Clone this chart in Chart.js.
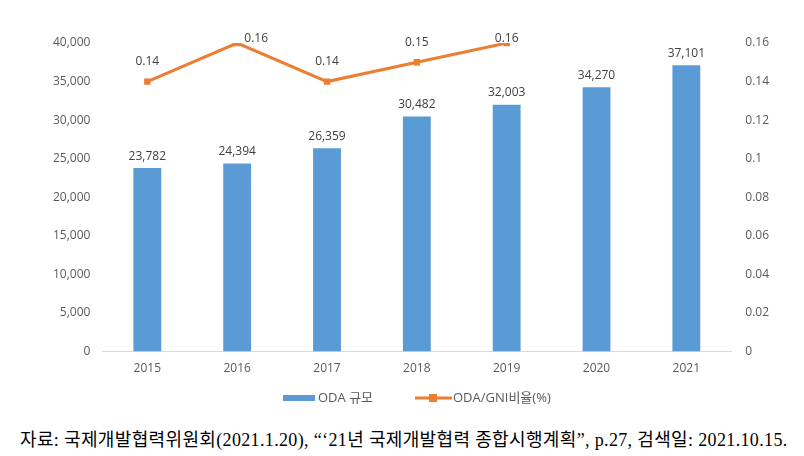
<!DOCTYPE html>
<html>
<head>
<meta charset="UTF-8">
<title>ODA 규모</title>
<style>
  body { margin: 0; background: #fff; width: 804px; height: 456px; overflow: hidden; }
  .chartBox { position: absolute; left: 0; top: 0; width: 804px; height: 416px; }
  .source { position: absolute; left: 20px; top: 425px; font-family: "Liberation Serif", "Noto Sans CJK KR", serif; font-size: 18px; color: #000; white-space: nowrap; letter-spacing: 0.35px; }
</style>
</head>
<body>
<div class="chartBox"><canvas id="myChart"></canvas></div>
<div class="source">자료: 국제개발협력위원회(2021.1.20), “‘21년 국제개발협력 종합시행계획”, p.27, 검색일: 2021.10.15.</div>
<script src="https://cdn.jsdelivr.net/npm/chart.js"></script>
<script>
// data
const years = ['2015', '2016', '2017', '2018', '2019', '2020', '2021'];
const odaSize = [23782, 24394, 26359, 30482, 32003, 34270, 37101];
const odaGniRatio = [0.14, 0.16, 0.14, 0.15, 0.16, null, null];
const leftMax = 40000, leftStep = 5000;
const rightMax = 0.16, rightStep = 0.02;
const seriesNames = ['ODA 규모', 'ODA/GNI비율(%)'];

const blue = '#5b9bd5';
const orange = '#ed7d31';
const fontFam = '"Open Sans", "Noto Sans CJK KR", sans-serif';

// value labels
const valueLabels = {
  id: 'valueLabels',
  afterDatasetsDraw(chart) {
    const ctx = chart.ctx;
    ctx.save();
    ctx.font = '12px ' + fontFam;
    ctx.fillStyle = '#404040';
    ctx.textAlign = 'center';
    ctx.textBaseline = 'bottom';
    chart.getDatasetMeta(0).data.forEach((bar, i) => {
      ctx.fillText(odaSize[i].toLocaleString('en-US'), bar.x, bar.y - 6);
    });
    chart.getDatasetMeta(1).data.forEach((pt, i) => {
      const v = odaGniRatio[i];
      if (v === null) return;
      let x = pt.x, y = pt.y - 14;
      // labels at the top edge sit lower, like the original
      if (pt.y - 30 < chart.chartArea.top - 14) {
        x = pt.x + (i === 1 ? 19 : 0);
        y = pt.y + 2;
      }
      ctx.fillText(String(v), x, y);
    });
    ctx.restore();
  }
};

// legend drawn by hand (excel style)
const excelLegend = {
  id: 'excelLegend',
  afterDraw(chart) {
    const ctx = chart.ctx;
    const cy = 398;
    ctx.save();
    ctx.font = '13px ' + fontFam;
    ctx.textBaseline = 'middle';
    ctx.textAlign = 'left';
    // bar item
    ctx.fillStyle = blue;
    ctx.fillRect(283, cy - 3, 32, 6);
    ctx.fillStyle = '#595959';
    ctx.fillText(seriesNames[0], 318, cy);
    // line item
    ctx.strokeStyle = orange;
    ctx.lineWidth = 3;
    ctx.beginPath(); ctx.moveTo(415, cy); ctx.lineTo(452, cy); ctx.stroke();
    ctx.fillStyle = orange;
    ctx.fillRect(429, cy - 4, 8, 8);
    ctx.fillStyle = '#595959';
    ctx.fillText(seriesNames[1], 453, cy);
    ctx.restore();
  }
};

const data = {
  labels: years,
  datasets: [{
    type: 'bar',
    label: seriesNames[0],
    data: odaSize,
    backgroundColor: blue,
    yAxisID: 'y',
    barPercentage: 0.31,
    categoryPercentage: 1,
    order: 2
  }, {
    type: 'line',
    label: seriesNames[1],
    data: odaGniRatio,
    borderColor: orange,
    backgroundColor: orange,
    borderWidth: 3,
    pointStyle: 'rect',
    pointRadius: 4.5,
    pointBackgroundColor: orange,
    pointBorderWidth: 0,
    yAxisID: 'y1',
    tension: 0,
    order: 1
  }]
};

const config = {
  data,
  plugins: [valueLabels, excelLegend],
  options: {
    responsive: true,
    maintainAspectRatio: false,
    animation: false,
    layout: { padding: { top: 43, left: 41, right: 21, bottom: 30 } },
    plugins: {
      tooltip: { enabled: false },
      legend: { display: false }
    },
    scales: {
      x: {
        grid: { display: false, drawTicks: false },
        border: { color: '#d9d9d9', width: 1 },
        ticks: { color: '#595959', font: { size: 12, family: fontFam }, padding: 10 }
      },
      y: {
        position: 'left',
        min: 0, max: leftMax,
        grid: { display: false, drawTicks: false },
        border: { display: false },
        ticks: {
          stepSize: leftStep, padding: 12, color: '#595959',
          font: { size: 12, family: fontFam },
          callback: v => v.toLocaleString('en-US')
        }
      },
      y1: {
        position: 'right',
        min: 0, max: rightMax,
        grid: { display: false, drawTicks: false },
        border: { display: false },
        ticks: {
          stepSize: rightStep, padding: 14, color: '#595959',
          font: { size: 12, family: fontFam },
          callback: v => String(Math.round(v * 100) / 100)
        }
      }
    }
  }
};

const myChart = new Chart(document.getElementById('myChart'), config);
</script>
</body>
</html>
